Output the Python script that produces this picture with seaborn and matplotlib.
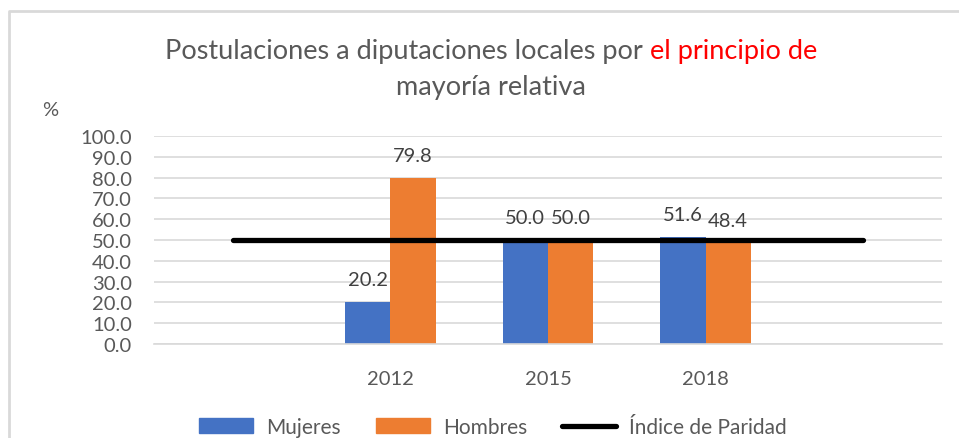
import pandas as pd
import matplotlib.pyplot as plt
import seaborn as sns
from matplotlib.patches import Patch
from matplotlib.lines import Line2D

# Datos
orden = ['', '2012', '2015', '2018', ' ']
anios = ['2012', '2015', '2018']
mujeres = [20.2, 50.0, 51.6]
hombres = [79.8, 50.0, 48.4]
paridad = [50.0, 50.0, 50.0, 50.0, 50.0]

azul = '#4472C4'
naranja = '#ED7D31'
gris_txt = '#595959'
gris_lin = '#D9D9D9'

sns.set_style('white')
plt.rcParams['font.family'] = ['Lato', 'DejaVu Sans']

df = pd.DataFrame({
    'Año': anios + anios,
    'Porcentaje': mujeres + hombres,
    'Sexo': ['Mujeres'] * len(anios) + ['Hombres'] * len(anios),
})

fig = plt.figure(figsize=(9.59, 4.39), dpi=100)
ax = fig.add_axes([154 / 959, 1 - 345 / 439, 788 / 959, 208 / 439])

sns.barplot(data=df, x='Año', y='Porcentaje', hue='Sexo', order=orden,
            palette={'Mujeres': azul, 'Hombres': naranja}, width=0.575,
            saturation=1, linewidth=0, ax=ax, legend=False)
ax.plot(range(len(orden)), paridad, color='black', lw=3.8,
        solid_capstyle='round', zorder=5)

for c in ax.containers:
    ax.bar_label(c, fmt='%.1f', padding=10, fontsize=14.5, color='#404040')

ax.set_ylim(0, 100)
ax.set_xlim(-0.5, len(orden) - 0.5)
ax.set_yticks(range(0, 101, 10))
ax.set_yticklabels([f'{v:.1f}' for v in range(0, 101, 10)])
ax.yaxis.grid(True, color=gris_lin, lw=1.2)
ax.set_axisbelow(True)
for s in ['top', 'right', 'left']:
    ax.spines[s].set_visible(False)
ax.spines['bottom'].set_color(gris_lin)
ax.spines['bottom'].set_linewidth(1.2)
ax.tick_params(axis='y', length=0, pad=16, labelsize=14.5, labelcolor=gris_txt)
ax.tick_params(axis='x', length=0, pad=19, labelsize=14.5, labelcolor=gris_txt)
ax.set_xlabel('')
ax.set_ylabel('')

fig.text(50 / 959, 1 - 110 / 439, '%', ha='center', va='center',
         fontsize=14.5, color=gris_txt)

# Título en dos colores
tam = 19.5
parte1 = 'Postulaciones a diputaciones locales por '
parte2 = 'el principio de'
y1 = 1 - 52 / 439
t1 = fig.text(0, y1, parte1, ha='left', va='center', fontsize=tam, color=gris_txt)
t2 = fig.text(0, y1, parte2, ha='left', va='center', fontsize=tam, color='red')
r = fig.canvas.get_renderer()
w1 = t1.get_window_extent(r).width
w2 = t2.get_window_extent(r).width
x0 = 491 - (w1 + w2) / 2
t1.set_x(x0 / 959)
t2.set_x((x0 + w1) / 959)
fig.text(491 / 959, 1 - 88 / 439, 'mayoría relativa', ha='center', va='center',
         fontsize=tam, color=gris_txt)

# Leyenda
handles = [Patch(color=azul), Patch(color=naranja),
           Line2D([], [], color='black', lw=3.8, solid_capstyle='round')]
fig.legend(handles, ['Mujeres', 'Hombres', 'Índice de Paridad'],
           loc='center', bbox_to_anchor=(493 / 959, 1 - 428 / 439), ncol=3,
           frameon=False, fontsize=15, labelcolor=gris_txt,
           handlelength=2.6, handleheight=0.7, handletextpad=0.6,
           columnspacing=1.7)

# Marco
fig.add_artist(Line2D([8.5 / 959, 8.5 / 959, 1], [0, 1 - 12 / 439, 1 - 12 / 439],
                      color=gris_lin, lw=2))

fig.savefig('out.png', dpi=100)
